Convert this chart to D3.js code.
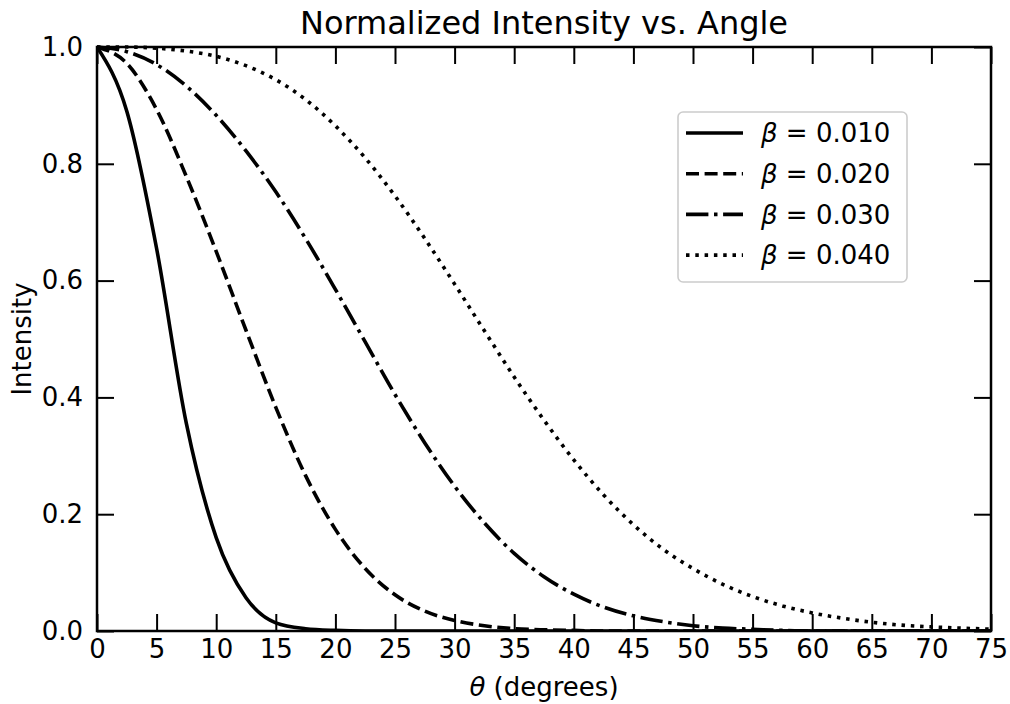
<!DOCTYPE html>
<html>
<head>
<meta charset="utf-8">
<script src="https://cdn.jsdelivr.net/npm/d3@7"></script>
<style>
  html, body { margin: 0; padding: 0; background: #fff; }
  svg { display: block; }
  text { font-family: "DejaVu Sans", sans-serif; fill: #000; }
</style>
</head>
<body>
<svg id="chart" width="1010" height="704"></svg>
<script>
// Angle samples (degrees)
const theta = [0, 2.5, 5, 7.5, 10, 12.5, 15, 17.5, 20, 22.5, 25, 27.5, 30, 32.5, 35,
  37.5, 40, 42.5, 45, 47.5, 50, 52.5, 55, 57.5, 60, 62.5, 65, 67.5, 70, 72.5, 75];

// Normalized intensity for each beta
const intensityB010 = [1.000, 0.890, 0.655, 0.355, 0.160, 0.057, 0.014, 0.004, 0.001, 0, 0,
  0, 0, 0, 0, 0, 0, 0, 0, 0, 0, 0, 0, 0, 0, 0, 0, 0, 0, 0, 0];
const intensityB020 = [1.000, 0.972, 0.893, 0.778, 0.650, 0.515, 0.383, 0.266, 0.174, 0.107, 0.062,
  0.034, 0.018, 0.009, 0.004, 0.002, 0.001, 0, 0, 0, 0, 0, 0, 0, 0, 0, 0, 0, 0, 0, 0];
const intensityB030 = [1.000, 0.992, 0.970, 0.933, 0.883, 0.822, 0.752, 0.672, 0.585, 0.495, 0.405,
  0.322, 0.248, 0.185, 0.133, 0.093, 0.063, 0.041, 0.026, 0.016, 0.009, 0.005, 0.003, 0.001,
  0, 0, 0, 0, 0, 0, 0];
const intensityB040 = [1.000, 1.000, 0.998, 0.993, 0.984, 0.968, 0.944, 0.910, 0.865, 0.810, 0.745,
  0.672, 0.594, 0.514, 0.435, 0.361, 0.293, 0.233, 0.182, 0.140, 0.107, 0.080, 0.059, 0.043,
  0.031, 0.022, 0.015, 0.010, 0.007, 0.005, 0.003];

const betaLabels = ["0.010", "0.020", "0.030", "0.040"];
const xTicks = [0, 5, 10, 15, 20, 25, 30, 35, 40, 45, 50, 55, 60, 65, 70, 75];
const yTicks = [0.0, 0.2, 0.4, 0.6, 0.8, 1.0];

const seriesValues = [intensityB010, intensityB020, intensityB030, intensityB040];
const dashStyles = [null, "13,5.6", "22.4,5.6,3.5,5.6", "3.5,5.8"];

const svg = d3.select("#chart");
const margin = { top: 47, right: 19, bottom: 73, left: 97 };
const W = 1010, H = 704;
const innerW = W - margin.left - margin.right;
const innerH = H - margin.top - margin.bottom;

const x = d3.scaleLinear().domain([0, 75]).range([margin.left, margin.left + innerW]);
const y = d3.scaleLinear().domain([0, 1]).range([margin.top + innerH, margin.top]);

// Clip curves to the plotting area
svg.append("defs").append("clipPath").attr("id", "plot-clip")
  .append("rect")
  .attr("x", margin.left).attr("y", margin.top - 3)
  .attr("width", innerW).attr("height", innerH + 3);

const line = d3.line()
  .x((d, i) => x(theta[i]))
  .y(d => y(d))
  .curve(d3.curveMonotoneX);

const curves = svg.append("g").attr("clip-path", "url(#plot-clip)");
seriesValues.forEach((vals, k) => {
  curves.append("path")
    .datum(vals)
    .attr("d", line)
    .attr("fill", "none")
    .attr("stroke", "#000")
    .attr("stroke-width", 3.6)
    .attr("stroke-linejoin", "round")
    .attr("stroke-dasharray", dashStyles[k]);
});

// Axes with inward ticks on all four sides
const tickLen = 17;
const styleAxis = g => {
  g.select(".domain").remove();
  g.selectAll(".tick line").attr("stroke", "#000").attr("stroke-width", 2);
  g.selectAll(".tick text").attr("font-size", 26).attr("font-family", "DejaVu Sans");
};

svg.append("g")
  .attr("transform", `translate(0,${margin.top + innerH})`)
  .call(d3.axisBottom(x).tickValues(xTicks).tickFormat(d3.format("d"))
    .tickSizeInner(-tickLen).tickSizeOuter(0).tickPadding(9))
  .call(styleAxis);

svg.append("g")
  .attr("transform", `translate(0,${margin.top})`)
  .call(d3.axisTop(x).tickValues(xTicks).tickFormat("")
    .tickSizeInner(-tickLen).tickSizeOuter(0))
  .call(styleAxis);

svg.append("g")
  .attr("transform", `translate(${margin.left},0)`)
  .call(d3.axisLeft(y).tickValues(yTicks).tickFormat(d3.format(".1f"))
    .tickSizeInner(-tickLen).tickSizeOuter(0).tickPadding(14))
  .call(styleAxis);

svg.append("g")
  .attr("transform", `translate(${margin.left + innerW},0)`)
  .call(d3.axisRight(y).tickValues(yTicks).tickFormat("")
    .tickSizeInner(-tickLen).tickSizeOuter(0))
  .call(styleAxis);

// Frame
svg.append("rect")
  .attr("x", margin.left).attr("y", margin.top)
  .attr("width", innerW).attr("height", innerH)
  .attr("fill", "none").attr("stroke", "#000").attr("stroke-width", 2.5);

// Title and axis labels
svg.append("text")
  .attr("x", margin.left + innerW / 2).attr("y", 34)
  .attr("text-anchor", "middle").attr("font-size", 32)
  .text("Normalized Intensity vs. Angle");

const xl = svg.append("text")
  .attr("x", margin.left + innerW / 2).attr("y", 696)
  .attr("text-anchor", "middle").attr("font-size", 26);
xl.append("tspan").attr("font-style", "italic").text("θ");
xl.append("tspan").text(" (degrees)");

svg.append("text")
  .attr("transform", `translate(31,${margin.top + innerH / 2}) rotate(-90)`)
  .attr("text-anchor", "middle").attr("font-size", 26)
  .text("Intensity");

// Legend
const legend = svg.append("g").attr("transform", `translate(${x(75) - 84},${margin.top + 65})`);
legend.append("rect")
  .attr("x", -229).attr("y", 0).attr("width", 229).attr("height", 170)
  .attr("rx", 5).attr("fill", "#fff").attr("fill-opacity", 0.8)
  .attr("stroke", "#cccccc").attr("stroke-width", 1.6);

betaLabels.forEach((lab, k) => {
  const cy = 21 + k * 40.7;
  legend.append("line")
    .attr("x1", -221).attr("x2", -164)
    .attr("y1", cy).attr("y2", cy)
    .attr("stroke", "#000").attr("stroke-width", 3.6)
    .attr("stroke-dasharray", dashStyles[k]);
  const t = legend.append("text")
    .attr("x", -146).attr("y", cy).attr("dy", "0.36em")
    .attr("font-size", 26);
  t.append("tspan").attr("font-style", "italic").text("β");
  t.append("tspan").text(" = " + lab);
});
</script>
</body>
</html>
